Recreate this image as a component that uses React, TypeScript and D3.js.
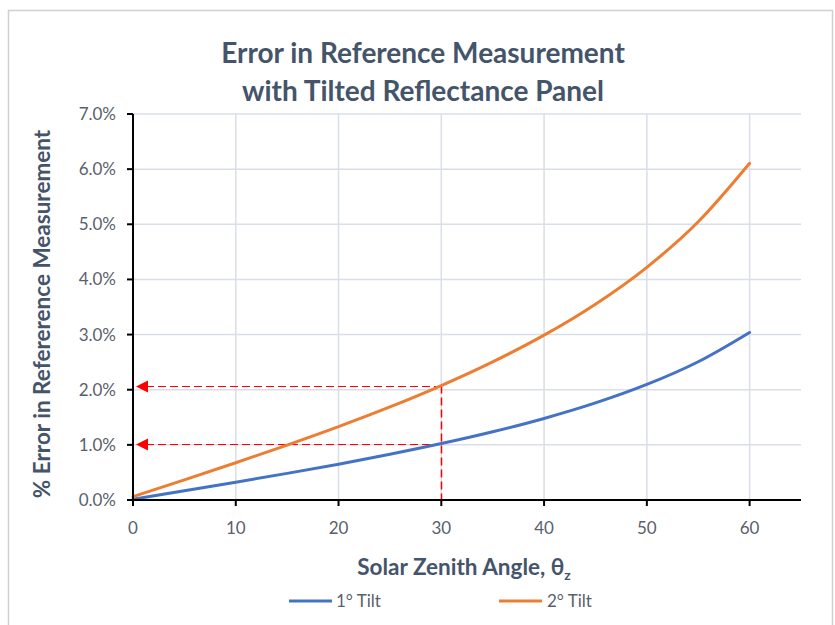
import React from "react";
import * as d3 from "d3";

const angles = [0, 5, 10, 15, 20, 25, 30, 35, 40, 45, 50, 55, 60];
const tilt1 = [0.015, 0.168, 0.323, 0.483, 0.65, 0.829, 1.023, 1.237, 1.479, 1.76, 2.095, 2.507, 3.038];
const tilt2 = [0.061, 0.366, 0.676, 0.996, 1.331, 1.688, 2.076, 2.505, 2.989, 3.551, 4.22, 5.045, 6.106];
const seriesNames = ["1° Tilt", "2° Tilt"];
const xTicks = [0, 10, 20, 30, 40, 50, 60];
const yTicks = [0, 1, 2, 3, 4, 5, 6, 7];
const markerAngle = 30;

const W = 835, H = 625;
const left = 133, right = 801, top = 114, bottom = 500;
const textColor = "#44546A";
const tickColor = "#595f6b";
const gridColor = "#D9DEE8";
const colors = ["#4472C4", "#ED7D31"];
const font = "Lato, 'Open Sans', sans-serif";

const snap = (v: number) => Math.round(v) + 0.5;

export default function App() {
  const x = d3.scaleLinear().domain([0, 65]).range([left, right]);
  const y = d3.scaleLinear().domain([0, 7]).range([bottom, top]);
  const line = d3
    .line<number>()
    .x((_, i) => x(angles[i]))
    .y((d) => y(d))
    .curve(d3.curveMonotoneX);
  const series = [tilt1, tilt2];
  const idx = angles.indexOf(markerAngle);
  const red = "#FF0000";
  const mx = snap(x(markerAngle));

  return (
    <svg
      width={W}
      height={H}
      style={{ position: "fixed", left: 0, top: 0, background: "#fff" }}
      fontFamily={font}
    >
      <rect x={0} y={0} width={W} height={H} fill="#fff" />
      <rect x={8.5} y={10.5} width={824} height={650} fill="none" stroke="#D0D0D0" strokeWidth={1.5} />
      <text x={423} y={63} textAnchor="middle" fontSize={28} fontWeight={700} fill={textColor}>
        Error in Reference Measurement
      </text>
      <text x={423} y={101} textAnchor="middle" fontSize={28} fontWeight={700} fill={textColor}>
        with Tilted Reflectance Panel
      </text>

      {/* grid */}
      {yTicks.filter((t) => t > 0).map((t) => (
        <line key={"gy" + t} x1={left} x2={right} y1={y(t)} y2={y(t)} stroke={gridColor} strokeWidth={1.5} />
      ))}
      {xTicks.filter((t) => t > 0).map((t) => (
        <line key={"gx" + t} x1={x(t)} x2={x(t)} y1={top} y2={bottom} stroke={gridColor} strokeWidth={1.5} />
      ))}

      {/* red guides */}
      <g stroke={red} strokeDasharray="8,4" fill="none">
        <line x1={mx} x2={mx} y1={y(tilt2[idx])} y2={bottom} strokeWidth={1.5} />
        {series.map((s, k) => (
          <line
            key={"h" + k}
            x1={mx}
            x2={left + 14}
            y1={snap(y(s[idx]))}
            y2={snap(y(s[idx]))}
            strokeWidth={1.3}
            shapeRendering="crispEdges"
          />
        ))}
      </g>
      {series.map((s, k) => {
        const yy = snap(y(s[idx]));
        return (
          <path key={"a" + k} d={`M${left + 3},${yy} L${left + 15},${yy - 6} L${left + 15},${yy + 6} Z`} fill={red} />
        );
      })}

      {/* series */}
      {series.map((s, k) => (
        <path key={"s" + k} d={line(s) || ""} fill="none" stroke={colors[k]} strokeWidth={3} strokeLinecap="round" />
      ))}

      {/* axes */}
      <line x1={left} x2={left} y1={top} y2={bottom + 5} stroke="#000" strokeWidth={2} />
      <line x1={left - 5} x2={right} y1={bottom} y2={bottom} stroke="#000" strokeWidth={2} />
      {yTicks.map((t) => (
        <g key={"yt" + t}>
          <line x1={left - 6} x2={left} y1={y(t)} y2={y(t)} stroke="#000" strokeWidth={2} />
          <text x={116} y={y(t) + 6} textAnchor="end" fontSize={17} fill={tickColor}>
            {t.toFixed(1)}%
          </text>
        </g>
      ))}
      {xTicks.map((t) => (
        <g key={"xt" + t}>
          <line x1={x(t)} x2={x(t)} y1={bottom} y2={bottom + 6} stroke="#000" strokeWidth={2} />
          <text x={x(t)} y={534} textAnchor="middle" fontSize={17} fill={tickColor}>
            {t}
          </text>
        </g>
      ))}

      {/* axis titles */}
      <text x={464} y={575} textAnchor="middle" fontSize={22.5} fontWeight={700} fill={textColor}>
        Solar Zenith Angle, θ
        <tspan fontSize={14} dy={5}>z</tspan>
      </text>
      <text
        transform={`translate(50,${(top + bottom) / 2 + 7}) rotate(-90)`}
        textAnchor="middle"
        fontSize={22.5}
        fontWeight={700}
        fill={textColor}
      >
        % Error in Refererence Measurement
      </text>

      {/* legend */}
      {seriesNames.map((n, k) => (
        <g key={"l" + k}>
          <line x1={289 + k * 210} x2={332 + k * 210} y1={601} y2={601} stroke={colors[k]} strokeWidth={3} />
          <text x={336 + k * 211} y={607} fontSize={17} fill={tickColor}>
            {n}
          </text>
        </g>
      ))}
    </svg>
  );
}
